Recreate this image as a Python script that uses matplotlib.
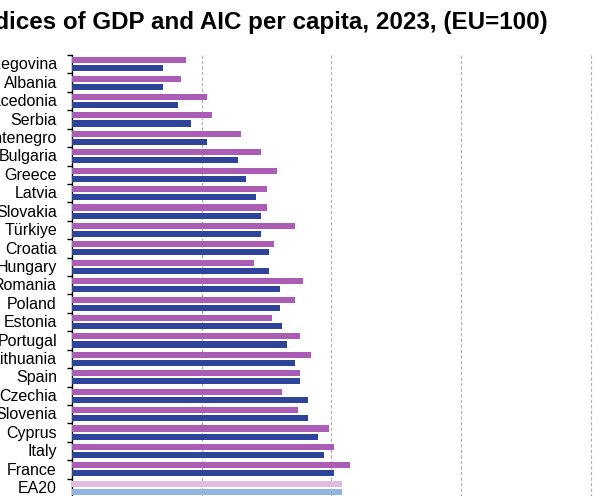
import matplotlib.pyplot as plt
import matplotlib.transforms as mtransforms
import numpy as np

plt.rcParams['font.family'] = ['Liberation Sans', 'DejaVu Sans']

# countries, top to bottom
countries = ['Bosnia and Herzegovina', 'Albania', 'North Macedonia', 'Serbia',
             'Montenegro', 'Bulgaria', 'Greece', 'Latvia', 'Slovakia', 'Türkiye',
             'Croatia', 'Hungary', 'Romania', 'Poland', 'Estonia', 'Portugal',
             'Lithuania', 'Spain', 'Czechia', 'Slovenia', 'Cyprus', 'Italy',
             'France', 'EA20']
# AIC per capita (upper bar)
aic = [44, 42, 52, 54, 65, 73, 79, 75, 75, 86,
       78, 70, 89, 86, 77, 88, 92, 88, 81, 87,
       99, 101, 107, 104]
# GDP per capita (lower bar)
gdp = [35, 35, 41, 46, 52, 64, 67, 71, 73, 73,
       76, 76, 80, 80, 81, 83, 86, 88, 91, 91,
       95, 97, 101, 104]

fig = plt.figure(figsize=(6, 4.96), dpi=100)
# axes left edge at x=72px, top at y=55px, bottom runs off the picture
ax = fig.add_axes([72/600, -1/496, 528/600, 442/496])

n = len(countries)
y = np.arange(n)
pink = ['#ab5cb5'] * (n - 1) + ['#e0bde0']
blue = ['#2e449a'] * (n - 1) + ['#8fb5e0']

ax.barh(y - 0.22, aic, height=0.33, color=pink, zorder=3)
ax.barh(y + 0.22, gdp, height=0.33, color=blue, zorder=3)

ax.set_ylim(n - 0.5, -0.5)
ax.set_xlim(0, 203.5)

ax.set_yticks(y)
ax.set_yticklabels(countries, fontsize=11.5)
ax.set_yticks(np.arange(-0.5, n, 1), minor=True)
ax.tick_params(axis='y', which='major', length=0, pad=10.8)
ax.tick_params(axis='y', which='minor', length=3.8, width=1, color='black')
ax.set_xticks([])

# nudge labels up a little
shift = mtransforms.ScaledTranslation(0, 0.008, fig.dpi_scale_trans)
for lab in ax.get_yticklabels():
    lab.set_transform(lab.get_transform() + shift)

for v in [50, 100, 150, 200]:
    ax.axvline(v, color='#b0b0b0', lw=0.8, ls=(0, (3, 2)), zorder=1)

for s in ['top', 'right', 'bottom']:
    ax.spines[s].set_visible(False)
ax.spines['left'].set_linewidth(1)

fig.text(548/600, 1 - 22/496, 'Volume indices of GDP and AIC per capita, 2023, (EU=100)',
         ha='right', va='center', fontsize=17.4, fontweight='bold')

fig.savefig('out.png', dpi=100)
